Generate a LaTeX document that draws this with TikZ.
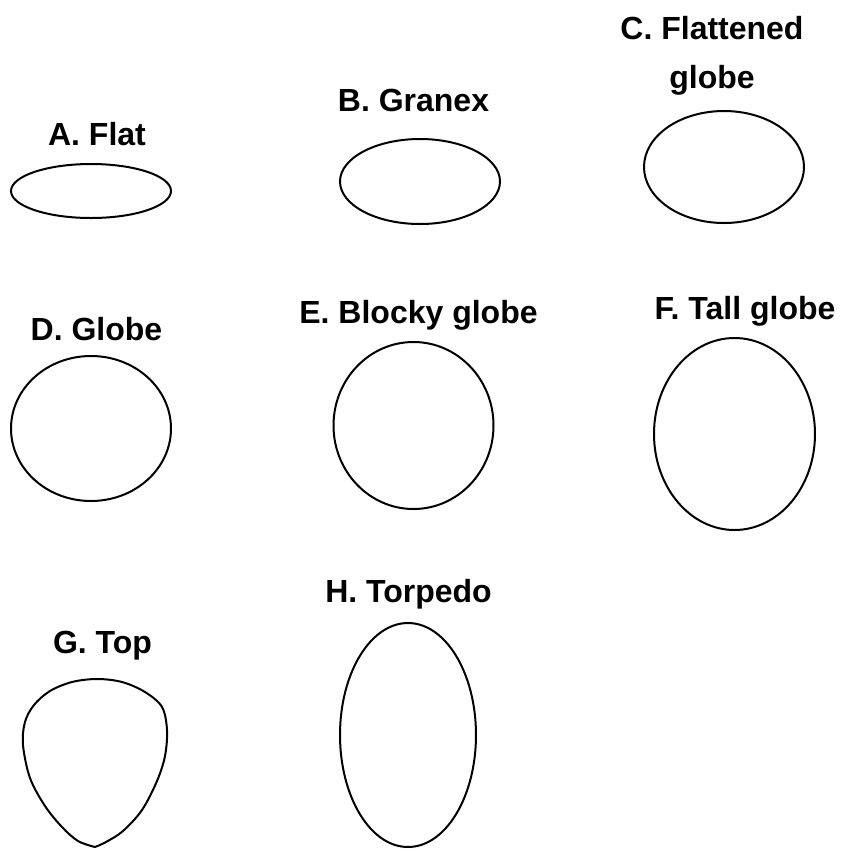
\documentclass[tikz,border=0pt]{standalone}
\usepackage{fontspec}
\setmainfont{Liberation Sans}
\begin{document}
\begin{tikzpicture}[x=0.75pt,y=-0.75pt,
  lbl/.style={font=\bfseries\fontsize{24}{36.75}\selectfont, inner sep=0pt, anchor=base, align=center},
  outline/.style={draw=black, line width=1.5pt}]
\fill[white] (0,0) rectangle (843,851);
\useasboundingbox (0,0) rectangle (843,851);
% labels
\node[lbl] (tA) at (97,145) {A. Flat};
\node[lbl] (tB) at (413.5,111) {B. Granex};
\node[lbl] (tC) at (712,88) {C. Flattened\\globe};
\node[lbl] (tD) at (96.5,340) {D. Globe};
\node[lbl] (tE) at (418.5,323) {E. Blocky globe};
\node[lbl] (tF) at (745,319) {F. Tall globe};
\node[lbl] (tG) at (102.5,653) {G. Top};
\node[lbl] (tH) at (408.5,602) {H. Torpedo};
% shapes
\draw[outline] (91,191) ellipse [x radius=80, y radius=27];
\draw[outline] (420,181.5) ellipse [x radius=80, y radius=42.5];
\draw[outline] (724,167) ellipse [x radius=80, y radius=56];
\draw[outline] (91,428.5) ellipse [x radius=80, y radius=72.5];
\draw[outline] (413.5,425.5) ellipse [x radius=80, y radius=83.5];
\draw[outline] (734.5,434) ellipse [x radius=80.5, y radius=96];
\draw[outline] (408,735) ellipse [x radius=68, y radius=112];
\draw[outline, line join=round] plot[smooth, tension=0.55] coordinates {
  (95,847) (78,841) (62,827) (45,806) (30,778) (23,745) (25,722) (34,705)
  (50,691) (72,682) (97,679) (122,682) (145,692) (162,707) (167,730)
  (165,756) (157,781) (142,810) (123,831) (106,842) (95,847)};
\end{tikzpicture}
\end{document}
